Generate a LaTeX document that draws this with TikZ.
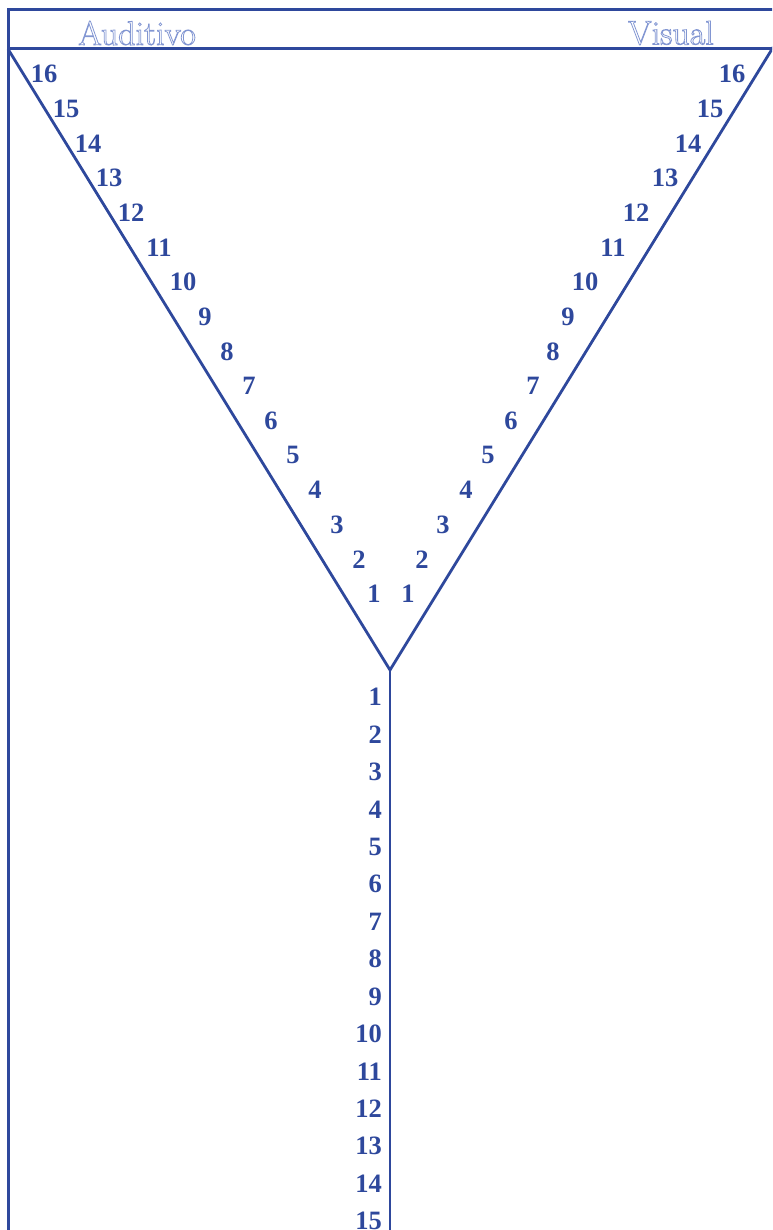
\documentclass[tikz,border=0pt]{standalone}
\usepackage{fontspec}
\newfontfamily\numfont{Liberation Serif}
\definecolor{vblue}{RGB}{46,72,156}
\definecolor{lblue}{RGB}{130,150,210}
\newcommand{\outlinetext}[1]{\special{pdf:literal direct 1 Tr 0.8 w}#1\special{pdf:literal direct 0 Tr}}
\begin{document}
\begin{tikzpicture}[x=1pt,y=-1pt,
  frameline/.style={draw=vblue,line width=3pt},
  vline/.style={draw=vblue,line width=2.8pt},
  num/.style={text=vblue,font=\numfont\fontsize{26.5}{26.5}\selectfont\bfseries,inner sep=0pt},
  title/.style={text=lblue,font=\fontsize{34}{34}\selectfont,inner sep=0pt}]
\useasboundingbox (0,0) rectangle (772,1230);
\begin{scope}
\clip (0,0) rectangle (772,1230);
\coordinate (TL) at (8,49);
\coordinate (TT) at (8,10);
\coordinate (TTR) at (780,10);
\coordinate (HR) at (780,49);
\coordinate (BL) at (8,1240);
\coordinate (V) at (390,670);
\coordinate (TR) at (777,41);
\coordinate (B) at (390,1240);
\draw[frameline] (TTR) -- (TT) -- (BL);
\draw[frameline] (TL) -- (HR);
\draw[vline] (TL) -- (V) -- (TR);
\draw[vline] (V) -- (B);
\end{scope}
\node[title] (aud) at (137,33) {\outlinetext{Auditivo}};
\node[title] (vis) at (671,33) {\outlinetext{Visual}};
% left labels
\foreach \n/\x in {16/44,15/66,14/88,13/109,12/131,11/159,10/183,9/205,8/227,7/249,6/271,5/293,4/315,3/337,2/359,1/374}{
  \node[num] (L\n) at (\x,{74+(16-\n)*34.67}) {\n};
}
% right labels
\foreach \n/\x in {16/732,15/710,14/688,13/665,12/636,11/613,10/585,9/568,8/553,7/533,6/511,5/488,4/466,3/443,2/422,1/408}{
  \node[num] (R\n) at (\x,{74+(16-\n)*34.67}) {\n};
}
% stem labels
\foreach \n in {1,...,15}{
  \node[num,anchor=east] (S\n) at (382,{697+(\n-1)*37.43}) {\n};
}
\end{tikzpicture}
\end{document}
